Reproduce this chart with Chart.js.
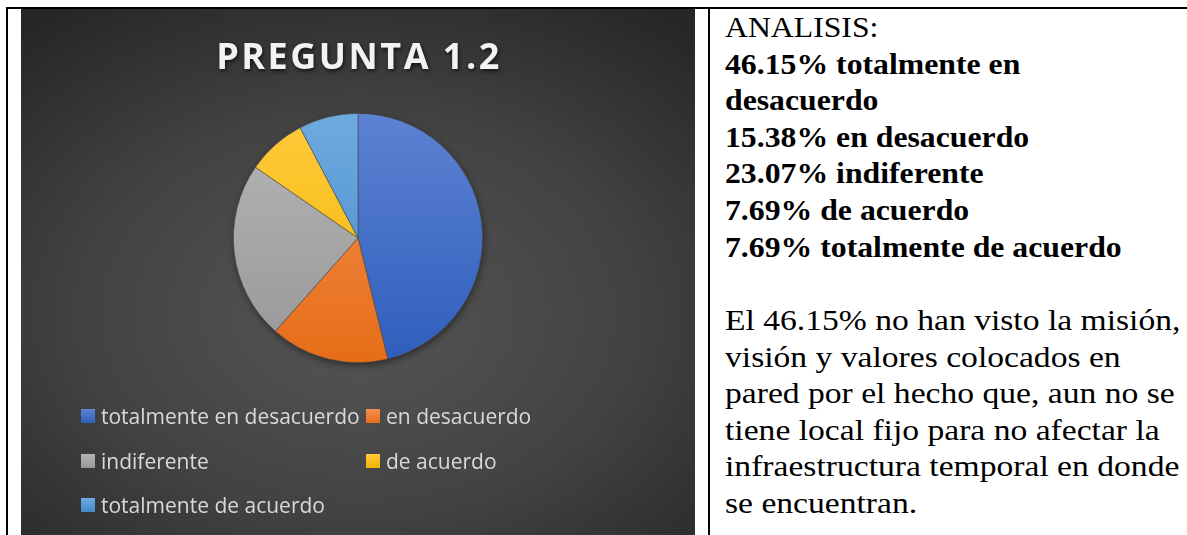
<!DOCTYPE html>
<html>
<head>
<meta charset="utf-8">
<script src="https://cdn.jsdelivr.net/npm/chart.js@4.4.0/dist/chart.umd.min.js"></script>
<style>
  html, body { margin: 0; padding: 0; background: #fff; }
  body { width: 1187px; height: 535px; position: relative; overflow: hidden; }
  .line { position: absolute; background: #000; }
  #chartBox {
    position: absolute; left: 21px; top: 9px; width: 674px; height: 526px;
    background: radial-gradient(ellipse 75% 70% at 50% 58%, #565656 0%, #424242 55%, #272727 100%);
  }
  #chartBox canvas { position: absolute; left: 0; top: 0; }
  #legend { position: absolute; left: 0; top: 0; width: 674px; height: 526px; pointer-events: none; }
  .box { position: absolute; width: 14px; height: 14px; }
  .lab { position: absolute; font-family: "Open Sans", sans-serif; font-size: 21px; line-height: 28px; color: #d9d9d9; white-space: nowrap; }
  .txt {
    position: absolute; left: 725px; white-space: nowrap; transform-origin: 0 0;
    font-family: "Liberation Serif", "Times New Roman", serif; font-size: 30px; line-height: 36.6px; color: #000;
  }
</style>
</head>
<body>
<div class="line" style="left:6px; top:7px; width:1181px; height:2px;"></div>
<div class="line" style="left:6px; top:7px; width:2px; height:528px;"></div>
<div class="line" style="left:708px; top:7px; width:2px; height:528px;"></div>

<div id="chartBox">
  <canvas id="myChart" width="674" height="526"></canvas>
  <div id="legend"></div>
</div>

<div class="txt" style="top:9px; transform: scaleX(1.058);">
  ANALISIS:<br>
  <b>46.15% totalmente en<br>desacuerdo<br>
  15.38% en desacuerdo<br>
  23.07% indiferente<br>
  7.69% de acuerdo<br>
  7.69% totalmente de acuerdo</b>
</div>
<div class="txt" style="top:302px; transform: scaleX(1.12);">
  El 46.15% no han visto la misión,<br>
  visión y valores colocados en<br>
  pared por el hecho que, aun no se<br>
  tiene local fijo para no afectar la<br>
  infraestructura temporal en donde<br>
  se encuentran.
</div>

<script>
const chartTitle = 'PREGUNTA 1.2';
const labels = [
    'totalmente en desacuerdo',
    'en desacuerdo',
    'indiferente',
    'de acuerdo',
    'totalmente de acuerdo'
];
const values = [46.15, 15.38, 23.07, 7.69, 7.69];
const topColors = ['#5d82d2', '#f4914f', '#b6b6b6', '#ffcb3c', '#6eaadf'];
const bottomColors = ['#2e5ebc', '#e66d18', '#979797', '#efb300', '#4689cc'];

function sliceFill(context) {
    const chart = context.chart;
    const area = chart.chartArea;
    if (!area) return topColors[context.dataIndex];
    const g = chart.ctx.createLinearGradient(0, area.top, 0, area.bottom);
    g.addColorStop(0, topColors[context.dataIndex]);
    g.addColorStop(1, bottomColors[context.dataIndex]);
    return g;
}

const pieShadow = {
    id: 'pieShadow',
    beforeDatasetsDraw(chart) {
        const arc = chart.getDatasetMeta(0).data[0];
        if (!arc) return;
        const ctx = chart.ctx;
        ctx.save();
        ctx.shadowColor = 'rgba(0,0,0,0.55)';
        ctx.shadowBlur = 9;
        ctx.shadowOffsetX = 1;
        ctx.shadowOffsetY = 3;
        ctx.fillStyle = '#3a3a3a';
        ctx.beginPath();
        ctx.arc(arc.x, arc.y, arc.outerRadius - 1, 0, Math.PI * 2);
        ctx.fill();
        ctx.restore();
    }
};

const titleDraw = {
    id: 'titleDraw',
    afterDraw(chart) {
        const ctx = chart.ctx;
        ctx.save();
        ctx.font = 'bold 36px "Open Sans"';
        ctx.letterSpacing = '2.5px';
        ctx.textAlign = 'center';
        ctx.textBaseline = 'alphabetic';
        ctx.shadowColor = 'rgba(0,0,0,0.7)';
        ctx.shadowBlur = 4;
        ctx.shadowOffsetX = 1;
        ctx.shadowOffsetY = 2;
        ctx.fillStyle = '#f2f2f2';
        ctx.fillText(chartTitle, chart.width / 2 + 1, 60);
        ctx.restore();
    }
};

const data = {
    labels: labels,
    datasets: [{
        data: values,
        backgroundColor: sliceFill,
        borderColor: 'rgba(70,70,70,0.7)',
        borderWidth: 0.8
    }]
};

const config = {
    type: 'pie',
    data: data,
    options: {
        responsive: false,
        animation: false,
        layout: {
            padding: { top: 104, bottom: 172, left: 0, right: 0 }
        },
        plugins: {
            legend: { display: false },
            tooltip: { enabled: false }
        }
    },
    plugins: [pieShadow, titleDraw]
};

const ctx = document.getElementById('myChart');
const chart = new Chart(ctx, config);

// legend laid out as a two column grid like the original
const legendCols = [60, 345, 60, 345, 60];
const legendRows = [393, 393, 438, 438, 482];
const legendEl = document.getElementById('legend');
labels.forEach((lab, i) => {
    const box = document.createElement('div');
    box.className = 'box';
    box.style.left = legendCols[i] + 'px';
    box.style.top = (legendRows[i] + 7) + 'px';
    box.style.background = 'linear-gradient(' + topColors[i] + ',' + bottomColors[i] + ')';
    legendEl.appendChild(box);
    const t = document.createElement('div');
    t.className = 'lab';
    t.style.left = (legendCols[i] + 20) + 'px';
    t.style.top = legendRows[i] + 'px';
    t.textContent = lab;
    legendEl.appendChild(t);
});
</script>
</body>
</html>
